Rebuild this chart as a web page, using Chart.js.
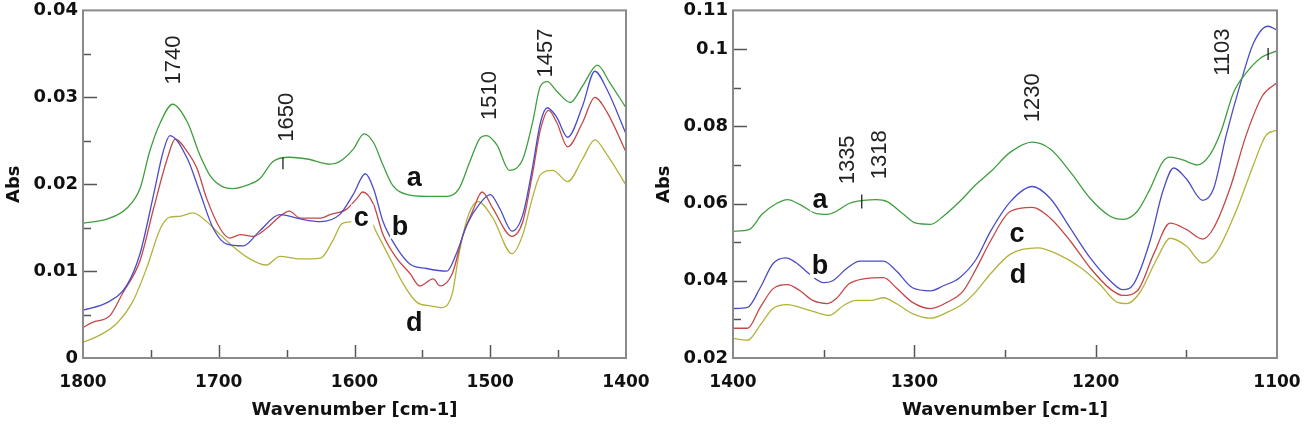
<!DOCTYPE html>
<html><head><meta charset="utf-8">
<script src="https://cdn.jsdelivr.net/npm/chart.js@4.4.1/dist/chart.umd.min.js"></script>
<style>
html,body{margin:0;padding:0;background:#fff;}
#wrap{position:relative;width:1305px;height:429px;overflow:hidden;background:#fff;}
#c1{position:absolute;left:0;top:0;}
#c2{position:absolute;left:650px;top:0;}
</style></head><body>
<div id="wrap"><canvas id="c1" width="650" height="429"></canvas><canvas id="c2" width="655" height="429"></canvas></div>
<script>
// ---------- Left panel (1800-1400 cm-1) ----------
const leftWnA = [1800,1782,1768,1758,1751,1743,1734,1723,1714,1706,1697,1690,1679,1670,1660,1648,1635,1618,1611,1601,1593,1586,1579,1572,1561,1547,1532,1523,1515,1508,1503,1495,1486,1476,1469,1463,1458,1451,1441,1432,1421,1412,1400];
const leftAbsA = [0.0155,0.016,0.0172,0.0195,0.0237,0.0271,0.0292,0.0271,0.0234,0.0209,0.0197,0.0195,0.0199,0.0206,0.0226,0.0231,0.0229,0.0223,0.0226,0.024,0.0258,0.0248,0.0222,0.0199,0.0188,0.0186,0.0186,0.0195,0.0226,0.0252,0.0256,0.0245,0.0216,0.0229,0.027,0.0313,0.0318,0.0307,0.0294,0.0313,0.0337,0.0317,0.0288];

const leftWnB = [1800,1782,1768,1758,1748,1741,1736,1723,1714,1704,1694,1682,1670,1655,1640,1625,1611,1601,1592,1586,1579,1569,1559,1547,1532,1525,1517,1508,1500,1493,1484,1476,1469,1463,1458,1451,1443,1432,1423,1414,1400];
const leftAbsB = [0.0055,0.0064,0.0083,0.012,0.0188,0.0237,0.0256,0.0229,0.0191,0.0149,0.0131,0.0129,0.0146,0.0165,0.016,0.0157,0.0165,0.0188,0.0212,0.0195,0.0157,0.0127,0.0108,0.0103,0.01,0.012,0.0154,0.0177,0.0188,0.0172,0.0146,0.0165,0.0218,0.0271,0.0288,0.0277,0.0254,0.029,0.033,0.0309,0.0258];

const leftWnC = [1800,1793,1780,1771,1758,1748,1738,1732,1723,1716,1709,1699,1692,1684,1675,1665,1655,1648,1640,1625,1618,1606,1598,1594,1586,1579,1569,1559,1552,1542,1537,1528,1520,1513,1506,1498,1484,1476,1469,1463,1457,1451,1443,1432,1423,1414,1400];
const leftAbsC = [0.0035,0.0041,0.0049,0.0074,0.0112,0.0172,0.0229,0.0252,0.0237,0.0218,0.0184,0.0149,0.0138,0.0142,0.014,0.0149,0.0163,0.0169,0.0161,0.0161,0.0165,0.0171,0.0184,0.0191,0.0177,0.0142,0.0115,0.0097,0.0083,0.0091,0.0083,0.0097,0.0142,0.0169,0.0191,0.0172,0.014,0.0157,0.0211,0.0263,0.0285,0.0271,0.0243,0.0271,0.03,0.0283,0.0237];

const leftWnD = [1800,1788,1775,1763,1753,1743,1736,1729,1719,1709,1699,1690,1677,1665,1655,1640,1625,1616,1609,1601,1591,1583,1574,1564,1554,1544,1535,1528,1523,1516,1509,1498,1484,1476,1469,1463,1454,1443,1432,1423,1414,1400];
const leftAbsD = [0.0018,0.0026,0.004,0.0066,0.0104,0.0149,0.0162,0.0163,0.0167,0.0157,0.0142,0.0129,0.0114,0.0107,0.0117,0.0114,0.0115,0.0135,0.0155,0.0157,0.0163,0.0142,0.0115,0.0085,0.0064,0.006,0.0058,0.0074,0.012,0.0165,0.018,0.0161,0.012,0.0142,0.0184,0.0211,0.0216,0.0203,0.0229,0.0251,0.0234,0.0199];

const leftXMajor = [1800,1700,1600,1500,1400];
const leftXMinor = [1750,1650,1550,1450];
const leftYMajor = [0,0.01,0.02,0.03,0.04];
const leftYLabels = ['0','0.01','0.02','0.03','0.04'];
const leftYMinor = [0.005,0.015,0.025,0.035];

// ---------- Right panel (1400-1100 cm-1) ----------
const rightWnA = [1400,1391,1384,1376,1370,1363,1354,1348,1343,1336,1328,1321,1315,1306,1299,1291,1284,1275,1266,1258,1247,1235,1225,1214,1203,1192,1185,1177,1170,1163,1159,1152,1144,1137,1131,1124,1117,1109,1100];
const rightAbsA = [0.0528,0.0533,0.0572,0.06,0.061,0.0597,0.0574,0.0572,0.058,0.06,0.0608,0.061,0.0605,0.0572,0.0549,0.0546,0.0567,0.0605,0.0649,0.0682,0.0733,0.0759,0.0741,0.0682,0.0613,0.0567,0.0559,0.058,0.0638,0.0708,0.072,0.0713,0.07,0.0726,0.0785,0.0887,0.0938,0.0977,0.0995];

const rightWnB = [1400,1392,1385,1378,1371,1365,1358,1350,1345,1337,1330,1317,1310,1301,1291,1284,1275,1266,1258,1247,1235,1225,1214,1203,1192,1185,1179,1170,1163,1157,1150,1141,1135,1128,1120,1113,1105,1100];
const rightAbsB = [0.0328,0.0331,0.0382,0.0444,0.0459,0.0446,0.0418,0.0395,0.04,0.0433,0.0451,0.0451,0.0426,0.0382,0.0374,0.0387,0.0408,0.0455,0.0528,0.0605,0.0644,0.0613,0.0536,0.0459,0.04,0.0377,0.0392,0.0503,0.0631,0.0692,0.0664,0.0608,0.0638,0.0777,0.0913,0.1015,0.1059,0.1049];

const rightWnC = [1400,1392,1385,1378,1370,1363,1356,1348,1343,1336,1328,1317,1310,1301,1291,1282,1273,1266,1258,1247,1235,1225,1214,1203,1192,1185,1177,1168,1159,1150,1141,1135,1126,1117,1108,1100];
const rightAbsC = [0.0277,0.0277,0.0331,0.0379,0.039,0.0374,0.0349,0.0341,0.0354,0.0392,0.0405,0.0408,0.0382,0.0344,0.0328,0.0344,0.0374,0.043,0.0503,0.058,0.059,0.0562,0.0503,0.0433,0.0379,0.0362,0.0374,0.0469,0.0549,0.0533,0.0508,0.0536,0.0638,0.0777,0.0879,0.0913];

const rightWnD = [1400,1392,1385,1378,1370,1361,1352,1347,1339,1332,1324,1317,1310,1301,1291,1282,1273,1266,1258,1247,1232,1221,1208,1198,1188,1183,1176,1166,1159,1150,1141,1133,1122,1113,1106,1100];
const rightAbsD = [0.0251,0.0246,0.0285,0.0328,0.0338,0.0328,0.0315,0.031,0.0336,0.0349,0.0349,0.0356,0.0341,0.0315,0.0303,0.0318,0.0341,0.0372,0.0418,0.0469,0.0485,0.0469,0.0433,0.0392,0.0344,0.0341,0.0367,0.0459,0.051,0.049,0.0446,0.0477,0.0587,0.07,0.0777,0.079];

const rightXMajor = [1400,1300,1200,1100];
const rightXMinor = [1350,1250,1150];
const rightYMajor = [0.02,0.04,0.06,0.08,0.1,0.11];
const rightYLabels = ['0.02','0.04','0.06','0.08','0.1','0.11'];
const rightYMinor = [0.03,0.05,0.07,0.09];

const seriesNames = ['a','b','c','d'];
const seriesColors = ['#3f9f3f','#4c4cc8','#c44848','#b2b23c'];

// ---------- helpers ----------
Chart.defaults.font.family = "'DejaVu Sans', sans-serif";
Chart.defaults.color = '#111';

function pairs(wn, ab){ return wn.map((w,i)=>({x:w, y:ab[i]})); }
function near(list, v){ return list.findIndex(m => Math.abs(m - v) < 1e-9); }

const decor = {
  id: 'decor',
  afterDatasetsDraw(chart, args, o) {
    const {ctx, scales:{x, y}} = chart;
    ctx.save();
    // peak marks
    ctx.strokeStyle = '#222'; ctx.lineWidth = 1.3;
    o.marks.forEach(m => {
      const px = x.getPixelForValue(m.w), py = y.getPixelForValue(m.a);
      ctx.beginPath(); ctx.moveTo(px, py - m.len/2); ctx.lineTo(px, py + m.len/2); ctx.stroke();
    });
    // letters with white label box
    ctx.font = "bold 27px 'Liberation Sans', Arial, sans-serif";
    ctx.textAlign = 'center'; ctx.textBaseline = 'middle';
    o.letters.forEach(l => {
      const px = x.getPixelForValue(l.w), py = y.getPixelForValue(l.a);
      ctx.fillStyle = '#fff';
      ctx.fillRect(px - 10, py - 15, 22, 26);
      ctx.fillStyle = '#111';
      ctx.fillText(l.t, px, py);
    });
    // rotated peak labels
    ctx.font = "22px 'Liberation Sans', Arial, sans-serif";
    ctx.fillStyle = '#222';
    o.peaks.forEach(p => {
      const px = x.getPixelForValue(p.w), py = y.getPixelForValue(p.a);
      ctx.save(); ctx.translate(px, py); ctx.rotate(-Math.PI/2);
      ctx.fillText(p.t, 0, 1); ctx.restore();
    });
    ctx.restore();
  },
  afterDraw(chart, args, o) {
    const {ctx, chartArea:a, scales:{x, y}} = chart;
    ctx.save();
    ctx.strokeStyle = '#555'; ctx.lineWidth = 1.5;
    x.ticks.forEach(t => {
      if (t.value === x.min || t.value === x.max) return;
      const px = Math.round(x.getPixelForValue(t.value)) + 0.5;
      const len = near(o.xMajor, t.value) >= 0 ? 13 : 8;
      ctx.beginPath(); ctx.moveTo(px, a.bottom); ctx.lineTo(px, a.bottom - len); ctx.stroke();
    });
    y.ticks.forEach(t => {
      if (Math.abs(t.value - y.min) < 1e-9 || Math.abs(t.value - y.max) < 1e-9) return;
      const py = Math.round(y.getPixelForValue(t.value)) + 0.5;
      const len = near(o.yMajor, t.value) >= 0 ? 14 : 8;
      ctx.beginPath(); ctx.moveTo(a.left, py); ctx.lineTo(a.left + len, py); ctx.stroke();
    });
    ctx.strokeStyle = '#8a8a8a'; ctx.lineWidth = 2;
    ctx.strokeRect(a.left, a.top, a.right - a.left, a.bottom - a.top);
    ctx.restore();
  }
};

function makeChart(id, cfg) {
  const datasets = cfg.series.map((s, i) => ({
    label: seriesNames[i],
    data: pairs(s[0], s[1]),
    borderColor: seriesColors[i],
    borderWidth: 1.3,
    pointRadius: 0,
    cubicInterpolationMode: 'monotone',
    fill: false
  }));
  return new Chart(document.getElementById(id), {
    type: 'line',
    data: { datasets },
    plugins: [decor],
    options: {
      responsive: false,
      animation: false,
      events: [],
      layout: { padding: { left: 0, right: cfg.padRight, top: 7, bottom: 0 } },
      plugins: {
        legend: { display: false },
        tooltip: { enabled: false },
        decor: { xMajor: cfg.xMajor, yMajor: cfg.yMajor, peaks: cfg.peaks, letters: cfg.letters, marks: cfg.marks }
      },
      scales: {
        x: {
          type: 'linear', reverse: true, min: cfg.xMin, max: cfg.xMax,
          grid: { display: false, drawTicks: false },
          border: { display: false },
          afterBuildTicks: s => { s.ticks = [...cfg.xMajor, ...cfg.xMinor].sort((p,q)=>p-q).map(v => ({value: v})); },
          afterFit: s => { s.height = 71; },
          ticks: {
            autoSkip: false, maxRotation: 0, padding: 14,
            font: { size: 17, weight: 'bold' }, color: '#111',
            callback: v => near(cfg.xMajor, v) >= 0 ? String(v) : ''
          },
          title: { display: true, text: 'Wavenumber [cm-1]', color: '#111',
                   font: { size: 18, weight: 'bold' }, padding: { top: 0, bottom: 8 } }
        },
        y: {
          type: 'linear', min: cfg.yMin, max: cfg.yMax,
          grid: { display: false, drawTicks: false },
          border: { display: false },
          afterBuildTicks: s => { s.ticks = [...cfg.yMajor, ...cfg.yMinor].sort((p,q)=>p-q).map(v => ({value: v})); },
          afterFit: s => { s.width = 83; },
          ticks: {
            autoSkip: false, padding: 5,
            font: { size: 18, weight: 'bold', lineHeight: 0.6 }, color: '#111',
            callback: v => { const i = near(cfg.yMajor, v); return i >= 0 ? cfg.yLabels[i] : ''; }
          },
          title: { display: true, text: 'Abs', color: '#111',
                   font: { size: 18, weight: 'bold' }, padding: { top: 4, bottom: 0 } }
        }
      }
    }
  });
}

makeChart('c1', {
  series: [[leftWnA,leftAbsA],[leftWnB,leftAbsB],[leftWnC,leftAbsC],[leftWnD,leftAbsD]],
  xMin: 1400, xMax: 1800, yMin: 0, yMax: 0.04, padRight: 24,
  xMajor: leftXMajor, xMinor: leftXMinor, yMajor: leftYMajor, yMinor: leftYMinor, yLabels: leftYLabels,
  peaks: [ {t:'1740', w:1734, a:0.0343}, {t:'1650', w:1650.5, a:0.0277}, {t:'1510', w:1501, a:0.0302}, {t:'1457', w:1460, a:0.0351} ],
  letters: [ {t:'a', w:1556, a:0.0207}, {t:'b', w:1566.5, a:0.015}, {t:'c', w:1595, a:0.016}, {t:'d', w:1556, a:0.004} ],
  marks: [ {w:1652.7, a:0.0224, len:12} ]
});

makeChart('c2', {
  series: [[rightWnA,rightAbsA],[rightWnB,rightAbsB],[rightWnC,rightAbsC],[rightWnD,rightAbsD]],
  xMin: 1100, xMax: 1400, yMin: 0.02, yMax: 0.11, padRight: 28,
  xMajor: rightXMajor, xMinor: rightXMinor, yMajor: rightYMajor, yMinor: rightYMinor, yLabels: rightYLabels,
  peaks: [ {t:'1335', w:1337, a:0.0713}, {t:'1318', w:1319.5, a:0.0726}, {t:'1230', w:1235, a:0.0874}, {t:'1103', w:1130.3, a:0.0992} ],
  letters: [ {t:'a', w:1352, a:0.0608}, {t:'b', w:1352, a:0.0436}, {t:'c', w:1243.4, a:0.052}, {t:'d', w:1242.8, a:0.0413} ],
  marks: [ {w:1329, a:0.0605, len:14}, {w:1104.9, a:0.0987, len:12} ]
});
</script>
</body></html>
